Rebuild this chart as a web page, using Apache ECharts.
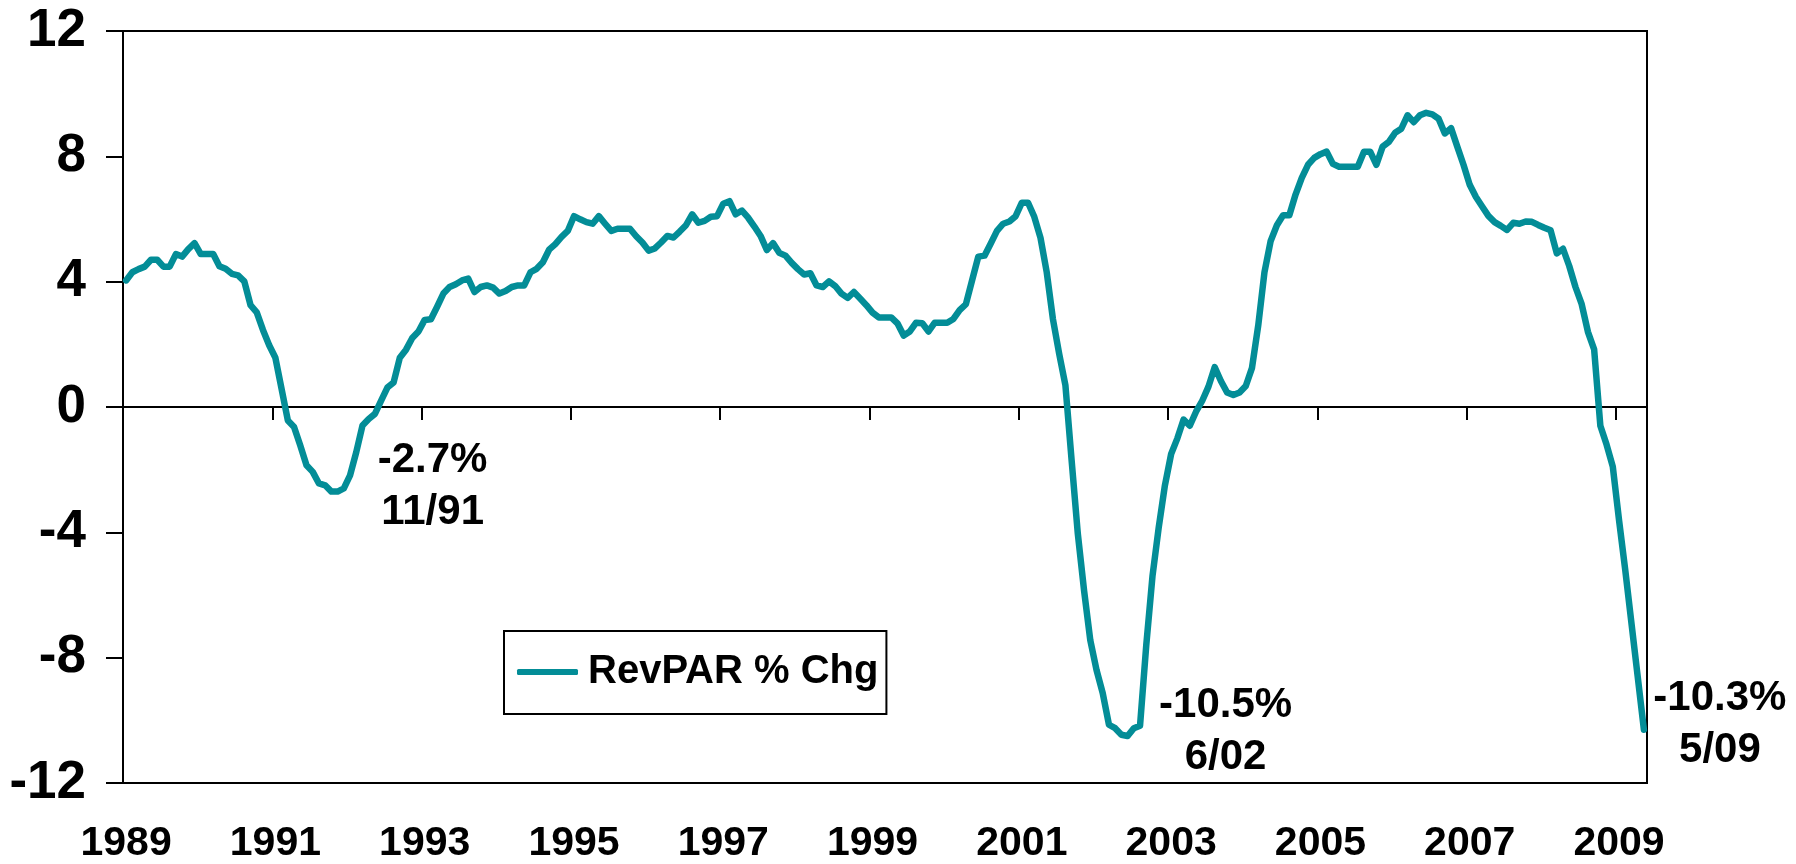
<!DOCTYPE html>
<html>
<head>
<meta charset="utf-8">
<title>RevPAR % Chg</title>
<script src="https://cdn.jsdelivr.net/npm/echarts@6/dist/echarts.min.js"></script>
<style>
  html, body { margin: 0; padding: 0; background: #fff; }
  #MainContent { width: 1796px; height: 864px; }
</style>
</head>
<body>
<div id="MainContent"></div>
<script>
// monthly RevPAR % change (Jan 1989 - May 2009)
var y1989 = [4.04, 4.3, 4.4, 4.48, 4.7, 4.7, 4.48, 4.48, 4.88, 4.8, 5.04, 5.23];
var y1990 = [4.88, 4.88, 4.88, 4.49, 4.41, 4.25, 4.2, 4.01, 3.25, 3.02, 2.46, 1.97];
var y1991 = [1.57, 0.57, -0.43, -0.64, -1.23, -1.86, -2.07, -2.44, -2.5, -2.7, -2.7, -2.6];
var y1992 = [-2.18, -1.44, -0.59, -0.38, -0.22, 0.2, 0.62, 0.78, 1.57, 1.83, 2.2, 2.41];
var y1993 = [2.78, 2.8, 3.2, 3.62, 3.83, 3.92, 4.04, 4.1, 3.67, 3.83, 3.88, 3.81];
var y1994 = [3.62, 3.7, 3.83, 3.88, 3.88, 4.3, 4.41, 4.62, 5.02, 5.2, 5.43, 5.62];
var y1995 = [6.09, 5.99, 5.9, 5.85, 6.09, 5.85, 5.62, 5.69, 5.69, 5.69, 5.45, 5.25];
var y1996 = [4.99, 5.06, 5.25, 5.46, 5.41, 5.6, 5.8, 6.15, 5.88, 5.94, 6.07, 6.09];
var y1997 = [6.49, 6.57, 6.15, 6.27, 6.04, 5.76, 5.46, 5.01, 5.23, 4.92, 4.83, 4.6];
var y1998 = [4.4, 4.23, 4.27, 3.88, 3.83, 4.01, 3.86, 3.62, 3.48, 3.67, 3.46, 3.25];
var y1999 = [3.01, 2.86, 2.86, 2.86, 2.67, 2.28, 2.41, 2.69, 2.67, 2.41, 2.69, 2.69];
var y2000 = [2.69, 2.81, 3.09, 3.28, 4.04, 4.8, 4.83, 5.22, 5.62, 5.85, 5.92, 6.09];
var y2001 = [6.52, 6.52, 6.07, 5.4, 4.3, 2.8, 1.7, 0.7, -1.7, -4.05, -5.85, -7.44];
var y2002 = [-8.39, -9.13, -10.14, -10.25, -10.46, -10.5, -10.25, -10.17, -7.6, -5.4, -3.85, -2.5];
var y2003 = [-1.5, -1.0, -0.4, -0.6, -0.15, 0.2, 0.65, 1.27, 0.83, 0.46, 0.38, 0.46];
var y2004 = [0.67, 1.25, 2.6, 4.3, 5.3, 5.8, 6.12, 6.12, 6.78, 7.31, 7.73, 7.95];
var y2005 = [8.07, 8.15, 7.76, 7.67, 7.67, 7.67, 7.67, 8.15, 8.15, 7.73, 8.31, 8.46];
var y2006 = [8.75, 8.88, 9.31, 9.09, 9.31, 9.39, 9.34, 9.2, 8.73, 8.9, 8.31, 7.73];
var y2007 = [7.09, 6.7, 6.4, 6.1, 5.9, 5.78, 5.65, 5.88, 5.85, 5.92, 5.91, 5.81];
var y2008 = [5.72, 5.64, 4.9, 5.05, 4.5, 3.83, 3.28, 2.4, 1.84, -0.6, -1.2, -1.9];
var y2009 = [-3.6, -5.2, -6.9, -8.6, -10.3];

var yearRows = [y1989, y1990, y1991, y1992, y1993, y1994, y1995, y1996, y1997, y1998,
    y1999, y2000, y2001, y2002, y2003, y2004, y2005, y2006, y2007, y2008, y2009];
var firstYear = 1989;

// tick labels on the x axis
var tickYears = ['1989', '1991', '1993', '1995', '1997', '1999', '2001', '2003', '2005', '2007', '2009'];

// call-outs: month, value, text
var notes = [
    ['1991-11', -2.7, '-2.7%\n11/91', [95, -5]],
    ['2002-06', -10.5, '-10.5%\n6/02', [98, -5]],
    ['2009-05', -10.3, '-10.3%\n5/09', [76, -5]]
];

var months = [];
var values = [];
yearRows.forEach(function (row, r) {
    row.forEach(function (v, m) {
        var mm = m + 1 < 10 ? '0' + (m + 1) : '' + (m + 1);
        months.push((firstYear + r) + '-' + mm);
        values.push(v);
    });
});

var teal = '#038d97';
var font = '"Liberation Sans", Arial, sans-serif';

function draw() {
    var chart = echarts.init(document.getElementById('MainContent'));

    var option = {
        animation: false,
        backgroundColor: '#fff',
        grid: {
            left: 123, right: 149, top: 31, bottom: 78,
            show: true, borderColor: '#000', borderWidth: 2, backgroundColor: 'transparent'
        },
        legend: {
            left: 504, top: 631,
            orient: 'horizontal',
            backgroundColor: '#fff',
            borderColor: '#000', borderWidth: 2,
            padding: [20, 8, 21, 13],
            itemWidth: 61, itemHeight: 6,
            icon: 'roundRect',
            data: ['RevPAR % Chg'],
            textStyle: {
                fontFamily: font, fontWeight: 'bold', fontSize: 40,
                color: '#000', padding: [0, 0, 0, 5], lineHeight: 42
            }
        },
        xAxis: [{
            type: 'category',
            data: months,
            boundaryGap: true,
            position: 'bottom',
            axisLine: { onZero: false, show: false },
            axisTick: { show: false },
            splitLine: { show: false },
            axisLabel: {
                interval: function (i, val) {
                    return val.slice(5) === '01' && tickYears.indexOf(val.slice(0, 4)) >= 0;
                },
                formatter: function (val) { return val.slice(0, 4); },
                margin: 40,
                fontFamily: font, fontWeight: 'bold', fontSize: 41, color: '#000'
            }
        }, {
            type: 'category',
            data: months,
            boundaryGap: true,
            position: 'bottom',
            axisLine: { onZero: true, lineStyle: { color: '#000', width: 2 } },
            axisTick: {
                show: true, length: 13,
                interval: function (i) { return i % 24 === 0; },
                lineStyle: { color: '#000', width: 2 }
            },
            axisLabel: { show: false },
            splitLine: { show: false }
        }],
        yAxis: {
            type: 'value',
            min: -12, max: 12, interval: 4,
            axisLine: { show: true, lineStyle: { color: '#000', width: 2 } },
            axisTick: { show: true, length: 17, lineStyle: { color: '#000', width: 2 } },
            splitLine: { show: false },
            axisLabel: {
                margin: 37,
                fontFamily: font, fontWeight: 'bold', fontSize: 53, color: '#000'
            }
        },
        series: [{
            name: 'RevPAR % Chg',
            type: 'line',
            xAxisIndex: 0,
            data: values,
            symbol: 'none',
            smooth: false,
            clip: false,
            lineStyle: { color: teal, width: 6.5, cap: 'round', join: 'round' },
            itemStyle: { color: teal },
            markPoint: {
                symbol: 'circle',
                symbolSize: 1,
                itemStyle: { color: 'transparent' },
                label: {
                    show: true,
                    position: 'inside',
                    align: 'center',
                    fontFamily: font, fontWeight: 'bold', fontSize: 42,
                    lineHeight: 52, color: '#000'
                },
                data: notes.map(function (n) {
                    return {
                        coord: [n[0], n[1]],
                        label: { formatter: n[2], offset: n[3] }
                    };
                })
            }
        }]
    };

    chart.setOption(option);
    window.onresize = chart.resize;
}

draw();
</script>
</body>
</html>
